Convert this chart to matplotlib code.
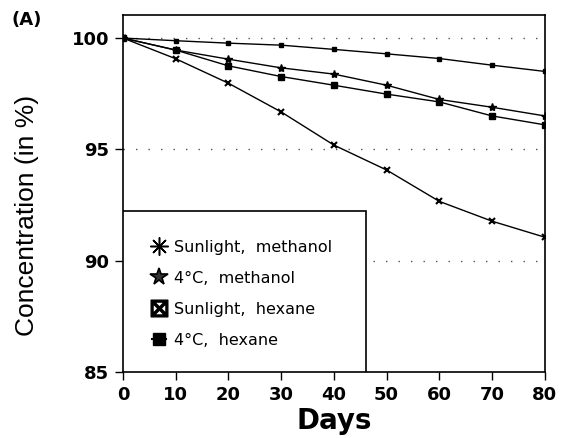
import matplotlib
matplotlib.use('Agg')
from matplotlib import pyplot as plt
from matplotlib.lines import Line2D
from matplotlib.patches import Rectangle

days = [0, 10, 20, 30, 40, 50, 60, 70, 80]
sun_methanol = [100, 99.07, 97.97, 96.68, 95.19, 94.07, 92.66, 91.77, 91.05]
cold_methanol = [100, 99.46, 99.05, 98.66, 98.38, 97.88, 97.24, 96.89, 96.5]
sun_hexane = [100, 99.88, 99.77, 99.68, 99.49, 99.29, 99.08, 98.78, 98.5]
cold_hexane = [100, 99.46, 98.75, 98.27, 97.88, 97.48, 97.13, 96.5, 96.1]

legend_labels = ['Sunlight,  methanol', '4°C,  methanol', 'Sunlight,  hexane', '4°C,  hexane']
xticks = [0, 10, 20, 30, 40, 50, 60, 70, 80]
yticks = [85, 90, 95, 100]

fig = plt.figure(figsize=(5.64, 4.38), dpi=100)
ax = fig.add_axes([0.218, 0.151, 0.748, 0.815])

ax.plot(days, sun_methanol, color='black', lw=1, marker='x', ms=4, mew=1.5)
ax.plot(days, cold_methanol, color='black', lw=1, marker='*', ms=6)
ax.plot(days, sun_hexane, color='black', lw=1, marker='s', ms=3)
ax.plot(days, cold_hexane, color='black', lw=1, marker='s', ms=5)

for y in [90, 95, 100]:
    ax.axhline(y, color='#555555', lw=1, ls=(0, (1, 8)), zorder=0)

ax.set_xlim(0, 80)
ax.set_ylim(85, 101.04)
ax.set_xticks(xticks)
ax.set_yticks(yticks)
tick_font = dict(family='DejaVu Sans', weight='bold', size=13)
ax.set_xticklabels([str(t) for t in xticks], fontdict=tick_font)
ax.set_yticklabels([str(t) for t in yticks], fontdict=tick_font)
ax.tick_params(direction='out', length=6, width=1, pad=4)
for s in ax.spines.values():
    s.set_linewidth(1.2)

ax.set_xlabel('Days', fontsize=20, fontweight='bold', family='DejaVu Sans', labelpad=2)
ax.set_ylabel('Concentration (in %)', fontsize=19,
              family=['Liberation Sans Narrow', 'Liberation Sans', 'DejaVu Sans'])
ax.yaxis.set_label_coords(-0.2, 0.437)
fig.text(0.02, 0.954, '(A)', fontsize=13, fontweight='bold', family='DejaVu Sans', va='center')

# legend box
ax.add_patch(Rectangle((0, 0), 0.576, 0.451, transform=ax.transAxes,
                       facecolor='white', edgecolor='black', lw=1.2, zorder=5))
handles = [
    Line2D([], [], ls='none', marker=(8, 2, 0), color='black', ms=13, mew=1.1),
    Line2D([], [], ls='none', marker='*', color='black', ms=13, mfc='#333333', mew=1.2),
    Line2D([], [], ls='none', marker='$\\boxtimes$', color='black', ms=12),
    Line2D([], [], ls='-', marker='s', color='black', ms=9, lw=1.5),
]
leg = ax.legend(handles, legend_labels, loc='center left', bbox_to_anchor=(0.054, 0.218),
                frameon=False, handlelength=0.9, handletextpad=0.5, labelspacing=1.0,
                prop=dict(family='DejaVu Sans', size=11.5), borderaxespad=0)
leg.set_zorder(6)

fig.savefig('out.png', dpi=100)
